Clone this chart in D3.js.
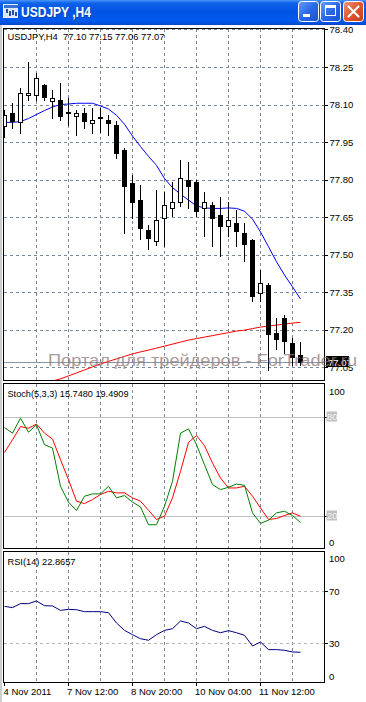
<!DOCTYPE html>
<html><head><meta charset="utf-8">
<script src="https://cdn.jsdelivr.net/npm/d3@7"></script>
<style>
html,body{margin:0;padding:0;background:#fff;overflow:hidden}
svg{display:block;font-family:"Liberation Sans",Arial,sans-serif}
</style></head><body>
<svg id="c" width="366" height="702"></svg>
<script>
// ---------- DATA ----------
const symbol = "USDJPY";
const period = "H4";
const times = ["4 Nov 04:00","4 Nov 08:00","4 Nov 12:00","4 Nov 16:00","4 Nov 20:00",
  "7 Nov 00:00","7 Nov 04:00","7 Nov 08:00","7 Nov 12:00","7 Nov 16:00","7 Nov 20:00",
  "8 Nov 00:00","8 Nov 04:00","8 Nov 08:00","8 Nov 12:00","8 Nov 16:00","8 Nov 20:00",
  "9 Nov 00:00","9 Nov 04:00","9 Nov 08:00","9 Nov 12:00","9 Nov 16:00","9 Nov 20:00",
  "10 Nov 00:00","10 Nov 04:00","10 Nov 08:00","10 Nov 12:00","10 Nov 16:00","10 Nov 20:00",
  "11 Nov 00:00","11 Nov 04:00","11 Nov 08:00","11 Nov 12:00","11 Nov 16:00","11 Nov 20:00",
  "14 Nov 00:00","14 Nov 04:00","14 Nov 08:00"];
const open  = [78.013,78.068,78.030,78.136,78.137,78.177,78.116,78.117,78.070,78.056,78.068,78.026,78.049,78.037,78.017,77.917,77.788,77.718,77.598,77.555,77.645,77.685,77.709,77.798,77.790,77.686,77.698,77.658,77.615,77.625,77.585,77.558,77.346,77.379,77.186,77.246,77.146,77.10];
const high  = [78.077,78.108,78.167,78.270,78.226,78.181,78.157,78.187,78.128,78.077,78.085,78.088,78.088,78.057,78.033,77.925,77.818,77.778,77.618,77.758,77.751,77.791,77.877,77.871,77.798,77.750,77.709,77.729,77.709,77.678,77.625,77.562,77.441,77.386,77.246,77.259,77.166,77.15];
const low   = [77.969,78.007,77.988,78.117,78.117,78.117,78.046,78.037,78.017,77.977,78.005,77.987,77.989,77.977,77.887,77.585,77.645,77.562,77.524,77.540,77.536,77.654,77.695,77.685,77.656,77.575,77.536,77.496,77.575,77.536,77.476,77.316,77.316,77.038,77.125,77.107,77.060,77.06];
const close = [78.057,78.036,78.147,78.147,78.207,78.131,78.128,78.054,78.068,78.068,78.036,78.037,78.048,78.026,77.907,77.775,77.709,77.605,77.565,77.638,77.698,77.709,77.808,77.775,77.675,77.709,77.645,77.615,77.638,77.595,77.542,77.337,77.386,77.183,77.162,77.157,77.092,77.07];
const maFast = [78.028,78.029,78.032,78.044,78.060,78.076,78.090,78.100,78.102,78.105,78.105,78.105,78.094,78.082,78.057,78.021,77.974,77.932,77.893,77.857,77.804,77.768,77.742,77.718,77.695,77.687,77.685,77.685,77.687,77.685,77.674,77.642,77.591,77.532,77.472,77.419,77.372,77.323];
const maSlow = [null,null,null,null,null,76.985,76.996,77.004,77.016,77.028,77.040,77.052,77.064,77.074,77.084,77.094,77.104,77.112,77.119,77.127,77.135,77.143,77.151,77.159,77.165,77.171,77.177,77.183,77.189,77.195,77.199,77.205,77.211,77.215,77.219,77.223,77.227,77.230];
const stochMain   = [73.3,69.9,79.0,70.5,75.0,62.9,60.9,37.7,28.1,23.0,31.7,33.1,33.1,37.7,30.7,32.1,28.1,25.2,14.4,14.4,25.6,40.7,69.9,72.5,62.9,50.8,38.7,35.7,37.1,39.1,38.3,21.6,15.2,17.2,21.6,22.6,20.0,15.7480];
const stochSignal = [58.2,65.9,73.9,72.9,75.4,69.9,66.3,53.8,41.7,28.7,27.2,29.7,32.7,34.7,33.7,33.7,30.7,28.7,23.2,17.6,19.6,30.7,46.8,64.3,68.5,62.3,51.8,42.7,36.7,36.7,37.7,31.7,24.6,17.6,18.2,20.0,21.6,19.4909];
const rsi = [58.2,57.2,60.3,60.3,62.3,58.7,58.5,55.1,55.9,55.6,54.1,54.1,54.1,53.3,45.4,39.7,36.4,33.3,32.1,36.4,39.7,41.0,46.9,45.4,41.0,42.8,39.7,37.9,39.5,37.9,35.9,27.7,30.8,24.9,24.9,24.4,23.1,22.8657];
const priceTicks = [78.40,78.25,78.10,77.95,77.80,77.65,77.50,77.35,77.20,77.05];
const stochTicks = [100,80,20,0];
const stochLevels = [80,20];
const rsiTicks = [100,70,30,0];
const rsiLevels = [70,30];
const dateTickIdx = [0,8,16,24,32];
const dateTickLabels = ["4 Nov 2011","7 Nov 12:00","8 Nov 20:00","10 Nov 04:00","11 Nov 12:00"];
const watermark = "Портал для трейдеров - ForTrader.ru";

// ---------- LAYOUT ----------
const svg = d3.select("#c");
const n = times.length;
const PL = 3.5, PR = 324.5;
const P = {main:{t:28.5,b:380.5}, sto:{t:383.5,b:548.5}, rsi:{t:551.5,b:682.5}};
const x = d3.scaleLinear().domain([0,n-1]).range([4.5, 4.5+8*(n-1)]);
const y = d3.scaleLinear().domain([77.05,78.40]).range([367.4,29.4]);
const ys = d3.scaleLinear().domain([0,100]).range([548.5,383.5]);
const yr = d3.scaleLinear().domain([0,100]).range([682,552]);
const GRID = "#778899";
const FS = 9.5;
const snap = v => Math.round(v)+0.5;

const defs = svg.append("defs");
Object.entries(P).forEach(([k,p])=>{
  defs.append("clipPath").attr("id","clip-"+k).append("rect")
    .attr("x",PL+0.5).attr("y",p.t+0.5).attr("width",PR-PL-1).attr("height",p.b-p.t-1);
});
const tg = defs.append("linearGradient").attr("id","tb").attr("x1",0).attr("y1",0).attr("x2",0).attr("y2",1);
[["0%","#4a94f7"],["12%","#0f63ea"],["45%","#0054e3"],["85%","#0058ee"],["100%","#0846c6"]].forEach(s=>tg.append("stop").attr("offset",s[0]).attr("stop-color",s[1]));
const bg = defs.append("linearGradient").attr("id","btn").attr("x1",0).attr("y1",0).attr("x2",1).attr("y2",1);
[["0%","#6a9ef8"],["50%","#2a68ea"],["100%","#1a50d0"]].forEach(s=>bg.append("stop").attr("offset",s[0]).attr("stop-color",s[1]));
const cg = defs.append("linearGradient").attr("id","cls").attr("x1",0).attr("y1",0).attr("x2",1).attr("y2",1);
[["0%","#f09a7e"],["50%","#e0532c"],["100%","#c93e1c"]].forEach(s=>cg.append("stop").attr("offset",s[0]).attr("stop-color",s[1]));

// ---------- TITLE BAR ----------
svg.append("rect").attr("x",0).attr("y",0).attr("width",366).attr("height",25).attr("fill","url(#tb)");
const ic = svg.append("g").attr("shape-rendering","crispEdges");
ic.append("rect").attr("x",3.5).attr("y",4.5).attr("width",14).attr("height",13).attr("fill","#dce6f4").attr("stroke","#e8f0ff");
ic.append("rect").attr("x",3.5).attr("y",4.5).attr("width",14).attr("height",3).attr("fill","#3c6fd8");
[[6,9,4],[9,11,5],[12,10,5],[15,12,4]].forEach(b=>ic.append("rect").attr("x",b[0]).attr("y",b[1]).attr("width",2).attr("height",b[2]).attr("fill","#2a4fa8"));
svg.append("text").attr("x",22).attr("y",18).attr("fill","#0a2a80").attr("opacity",0.5)
  .attr("font-size",14).attr("font-weight","bold").attr("textLength",70).attr("lengthAdjust","spacingAndGlyphs")
  .text(symbol+" ,"+period);
svg.append("text").attr("x",21).attr("y",17).attr("fill","#fff")
  .attr("font-size",14).attr("font-weight","bold").attr("textLength",70).attr("lengthAdjust","spacingAndGlyphs")
  .text(symbol+" ,"+period);
[[298.5,"url(#btn)"],[320.5,"url(#btn)"],[343.5,"url(#cls)"]].forEach(b=>{
  svg.append("rect").attr("x",b[0]).attr("y",1.5).attr("width",20).attr("height",20).attr("rx",3)
    .attr("fill",b[1]).attr("stroke","#fff").attr("stroke-width",1);
});
svg.append("rect").attr("x",303).attr("y",14).attr("width",7).attr("height",3).attr("fill","#fff");
svg.append("rect").attr("x",325.5).attr("y",5.5).attr("width",10).attr("height",10).attr("fill","none").attr("stroke","#fff").attr("stroke-width",1);
svg.append("rect").attr("x",325).attr("y",5).attr("width",11).attr("height",3).attr("fill","#fff");
svg.append("path").attr("d","M348.5,6.5 L358.5,16.5 M358.5,6.5 L348.5,16.5").attr("stroke","#fff").attr("stroke-width",2.2).attr("stroke-linecap","round");

// window edge
svg.append("line").attr("x1",1).attr("x2",1).attr("y1",25).attr("y2",702).attr("stroke","#9a9a9a");

// ---------- GRIDS ----------
const gridIdx = d3.range(4, n, 4);
Object.entries(P).forEach(([k,p])=>{
  svg.append("g").attr("shape-rendering","crispEdges").selectAll("line").data(gridIdx).join("line")
    .attr("x1",d=>x(d)).attr("x2",d=>x(d)).attr("y1",p.t).attr("y2",p.b)
    .attr("stroke",GRID).attr("stroke-dasharray","3,3");
});
svg.append("g").attr("shape-rendering","crispEdges").selectAll("line").data(priceTicks).join("line")
  .attr("x1",PL).attr("x2",PR).attr("y1",d=>snap(y(d))).attr("y2",d=>snap(y(d)))
  .attr("stroke",GRID).attr("stroke-dasharray","3,3");
svg.append("g").attr("shape-rendering","crispEdges").selectAll("line").data(stochLevels).join("line")
  .attr("x1",PL).attr("x2",PR).attr("y1",d=>snap(ys(d))).attr("y2",d=>snap(ys(d)))
  .attr("stroke","#c0c0c0");
svg.append("g").attr("shape-rendering","crispEdges").selectAll("line").data(rsiLevels).join("line")
  .attr("x1",PL).attr("x2",PR).attr("y1",d=>snap(yr(d))).attr("y2",d=>snap(yr(d)))
  .attr("stroke","#b4b4b4").attr("stroke-dasharray","3,3");

// ---------- MAIN PANEL ----------
const gm = svg.append("g").attr("clip-path","url(#clip-main)");
// bid line
gm.append("line").attr("x1",PL).attr("x2",PR).attr("y1",snap(y(close[n-1]))).attr("y2",snap(y(close[n-1])))
  .attr("stroke","#8795a5").attr("shape-rendering","crispEdges");
const lineMain = d3.line().defined(d=>d!=null).x((d,i)=>x(i)).y(d=>y(d));
gm.append("path").datum(maSlow).attr("d",lineMain).attr("fill","none").attr("stroke","#ff0000").attr("stroke-width",1);
gm.append("path").datum(maFast).attr("d",lineMain).attr("fill","none").attr("stroke","#0000ff").attr("stroke-width",1);
const candles = d3.range(n).map(i=>({i,o:open[i],h:high[i],l:low[i],c:close[i]}));
const cg2 = gm.append("g").attr("shape-rendering","crispEdges");
cg2.selectAll("line").data(candles).join("line")
  .attr("x1",d=>x(d.i)).attr("x2",d=>x(d.i)).attr("y1",d=>Math.round(y(d.h))).attr("y2",d=>Math.round(y(d.l))+1)
  .attr("stroke","#000");
cg2.selectAll("rect").data(candles).join("rect")
  .attr("x",d=>x(d.i)-2).attr("width",4)
  .attr("y",d=>snap(y(Math.max(d.o,d.c))))
  .attr("height",d=>Math.max(0.01, snap(y(Math.min(d.o,d.c)))-snap(y(Math.max(d.o,d.c)))))
  .attr("fill",d=>d.c>d.o?"#fff":"#000").attr("stroke","#000");

// ---------- STOCH ----------
const gs = svg.append("g").attr("clip-path","url(#clip-sto)");
const lineS = d3.line().x((d,i)=>x(i)).y(d=>ys(d));
gs.append("path").datum(stochSignal).attr("d",lineS).attr("fill","none").attr("stroke","#ff0000");
gs.append("path").datum(stochMain).attr("d",lineS).attr("fill","none").attr("stroke","#008000");

// ---------- RSI ----------
const gr = svg.append("g").attr("clip-path","url(#clip-rsi)");
gr.append("path").datum(rsi).attr("d",d3.line().x((d,i)=>x(i)).y(d=>yr(d))).attr("fill","none").attr("stroke","#000080");

// ---------- FRAMES ----------
Object.values(P).forEach(p=>{
  svg.append("rect").attr("x",PL).attr("y",p.t).attr("width",PR-PL).attr("height",p.b-p.t)
    .attr("fill","none").attr("stroke","#000").attr("shape-rendering","crispEdges");
});

// ---------- AXES ----------
const ax = svg.append("g").attr("transform",`translate(${PR},0)`)
  .call(d3.axisRight(y).tickValues(priceTicks).tickFormat(d3.format(".2f")).tickSize(3).tickPadding(2));
ax.select(".domain").remove();
ax.selectAll("text").attr("font-size",FS).attr("font-family","Liberation Sans, Arial, sans-serif").attr("fill","#000");
ax.selectAll("line").attr("stroke","#000").attr("shape-rendering","crispEdges");
// current price label
const cy = y(close[n-1]);
svg.append("rect").attr("x",326).attr("y",Math.round(cy)-6).attr("width",23).attr("height",11).attr("fill","#000");
svg.append("text").attr("x",328).attr("y",Math.round(cy)+3.5).attr("fill","#fff").attr("font-size",FS).text(d3.format(".2f")(close[n-1]));

function sideLabels(ticks, sc, p, boxed){
  ticks.forEach(v=>{
    const yy = Math.min(Math.max(sc(v), p.t+7.5), p.b-6);
    if (boxed.includes(v)) {
      svg.append("line").attr("x1",PR).attr("x2",PR+3).attr("y1",snap(sc(v))).attr("y2",snap(sc(v))).attr("stroke","#000").attr("shape-rendering","crispEdges");
      svg.append("rect").attr("x",326.5).attr("y",yy-5).attr("width",10.5).attr("height",10).attr("fill","#c0c0c0");
      svg.append("text").attr("x",327).attr("y",yy+3.5).attr("fill","#f4f4f4").attr("font-size",FS).text(v);
    } else {
      svg.append("text").attr("x",329).attr("y",yy+3.5).attr("fill","#000").attr("font-size",FS).text(v);
    }
  });
}
sideLabels(stochTicks, ys, P.sto, stochLevels);
rsiTicks.forEach(v=>{
  const yy = Math.min(Math.max(yr(v), P.rsi.t+7), P.rsi.b-6);
  if (rsiLevels.includes(v)) svg.append("line").attr("x1",PR).attr("x2",PR+3).attr("y1",snap(yr(v))).attr("y2",snap(yr(v))).attr("stroke","#000").attr("shape-rendering","crispEdges");
  svg.append("text").attr("x",329).attr("y",yy+3.5).attr("fill","#000").attr("font-size",FS).text(v);
});

// date axis
dateTickIdx.forEach((idx,j)=>{
  svg.append("line").attr("x1",x(idx)).attr("x2",x(idx)).attr("y1",P.rsi.b).attr("y2",P.rsi.b+3).attr("stroke","#000").attr("shape-rendering","crispEdges");
  svg.append("text").attr("x",Math.max(x(idx)-1.5,3.5)).attr("y",695).attr("font-size",FS).attr("fill","#000").text(dateTickLabels[j]);
});

// ---------- HEADERS ----------
const f2 = d3.format(".2f"), f4 = d3.format(".4f");
svg.append("text").attr("x",7.5).attr("y",40).attr("font-size",FS).attr("style","white-space:pre")
  .attr("textLength",157).attr("lengthAdjust","spacingAndGlyphs")
  .text(`${symbol},${period}  ${f2(open[n-1])} ${f2(high[n-1])} ${f2(low[n-1])} ${f2(close[n-1])}`);
svg.append("text").attr("x",7.5).attr("y",397).attr("font-size",FS)
  .attr("textLength",121).attr("lengthAdjust","spacingAndGlyphs")
  .text(`Stoch(5,3,3) ${f4(stochMain[n-1])} ${f4(stochSignal[n-1])}`);
svg.append("text").attr("x",7.5).attr("y",564.5).attr("font-size",FS)
  .attr("textLength",68).attr("lengthAdjust","spacingAndGlyphs")
  .text(`RSI(14) ${f4(rsi[n-1])}`);

// ---------- WATERMARK ----------
svg.append("text").attr("x",48).attr("y",365.5).attr("font-size",17).attr("fill","#8f7a7a").attr("opacity",0.75)
  .attr("textLength",309).attr("lengthAdjust","spacingAndGlyphs").text(watermark);
</script>
</body></html>
